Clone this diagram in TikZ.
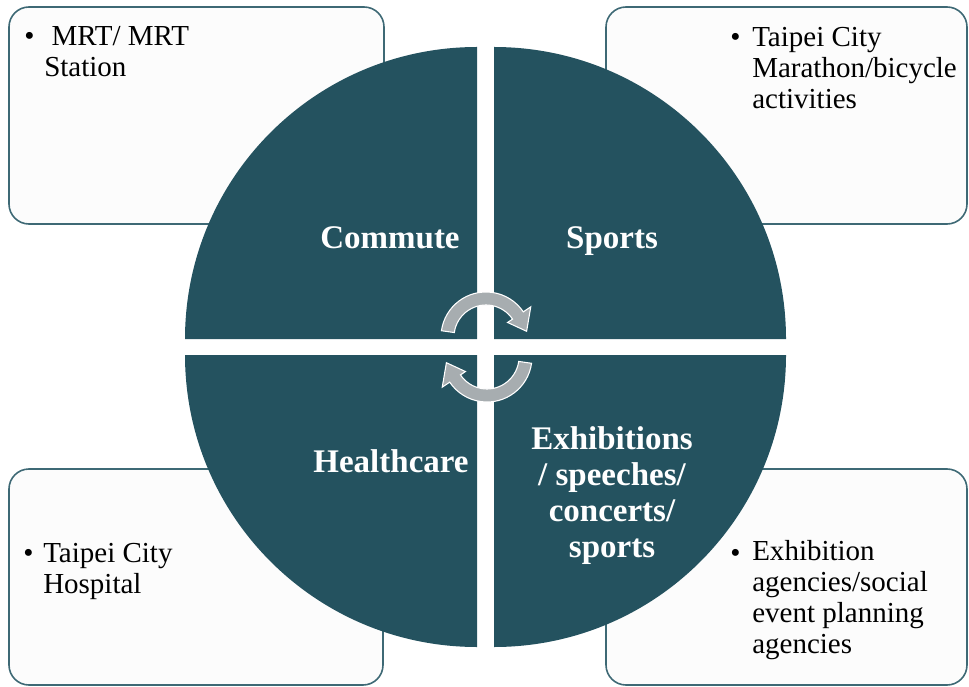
\documentclass[tikz,border=0pt]{standalone}
\usepackage{fontspec}
\setmainfont{Liberation Serif}
\usepackage{xcolor}
\usepackage{tikz}
\definecolor{quadfill}{HTML}{24525F}
\definecolor{panelline}{HTML}{3E6975}
\definecolor{panelfill}{HTML}{FCFCFC}
\definecolor{arrowfill}{HTML}{A7ADB0}
\tikzset{
  panel/.style={draw=panelline, fill=panelfill, line width=1.2pt, rounded corners=15pt},
  quad/.style={fill=quadfill},
  cyc/.style={fill=arrowfill, draw=white, line width=0.8pt},
  labq/.style={text=white, font=\fontsize{24.75pt}{27pt}\selectfont\bfseries, align=center, anchor=base, inner sep=0pt},
  labp/.style={text=black, font=\fontsize{21.75pt}{23.25pt}\selectfont, align=left, anchor=base west, inner sep=0pt},
  dot/.style={text=black, font=\fontsize{21.75pt}{23.25pt}\selectfont, anchor=base west, inner sep=0pt}
}
% half-turn arrow round #1, turned by #2 degrees
\newcommand{\CycleArrow}[2]{%
  \filldraw[cyc, shift={(#1)}, rotate=#2]
    (172:45) arc[start angle=172, end angle=34, radius=45]
    -- (34:54) -- (8:41) -- (34:26) -- (34:32)
    arc[start angle=34, end angle=172, radius=32] -- cycle;
}

\begin{document}
\begin{tikzpicture}[x=0.75pt, y=0.75pt]
  \useasboundingbox (0,0) rectangle (969,686);

  % outer panels
  \draw[panel] (9,462) rectangle (384,679);
  \draw[panel] (606,462) rectangle (967,679);
  \draw[panel] (9,1) rectangle (383,217);
  \draw[panel] (606,1) rectangle (967,217);

  % four quarters of the disc
  \fill[quad] (477,347) -- ++(180:292) arc[start angle=180, end angle=90, radius=292] -- cycle;
  \fill[quad] (494,347) -- ++(0:292) arc[start angle=0, end angle=90, radius=292] -- cycle;
  \fill[quad] (477,331) -- ++(180:292) arc[start angle=180, end angle=270, radius=292] -- cycle;
  \fill[quad] (494,331) -- ++(0:292) arc[start angle=0, end angle=-90, radius=292] -- cycle;

  \CycleArrow{486,349}{0}
  \CycleArrow{487,329}{180}

  % base of a multi-line node is its last line
  \node[labq] (commute) at (390,437) {Commute};
  \node[labq] (sports) at (612,437) {Sports};
  \node[labq] (health) at (391,214) {Healthcare};
  \node[labq] (events) at (612,129) {Exhibitions\\/ speeches/\\concerts/\\sports};

  \node[dot] (mrtdot) at (24,640) {\textbullet};
  \node[labp] (mrt) at (44,609) {\ MRT/ MRT\\Station};
  \node[dot] (racedot) at (730,639) {\textbullet};
  \node[labp] (race) at (752,577) {Taipei City\\Marathon/bicycle\\activities};
  \node[dot] (hospdot) at (23,124) {\textbullet};
  \node[labp] (hosp) at (43,93) {Taipei City\\Hospital};
  \node[dot] (agencydot) at (730,124) {\textbullet};
  \node[labp] (agency) at (752,33) {Exhibition\\agencies/social\\event planning\\agencies};
\end{tikzpicture}
\end{document}
